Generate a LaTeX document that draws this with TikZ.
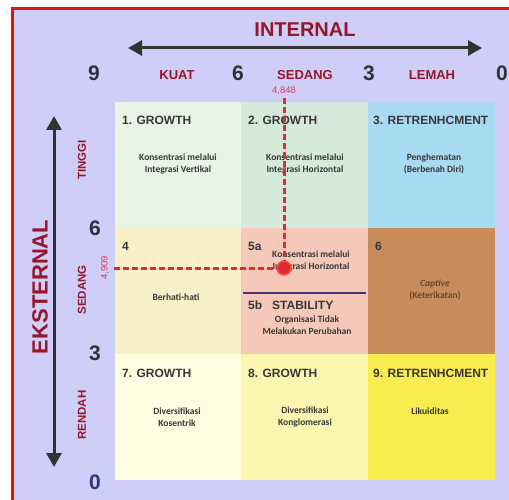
\documentclass[tikz,border=0pt]{standalone}
\usepackage{fontspec}
\setmainfont{Liberation Sans}
\newfontfamily\calfont{Carlito}
\usetikzlibrary{arrows.meta}

\definecolor{lavender}{RGB}{206,206,248}
\definecolor{framered}{RGB}{225,20,20}
\definecolor{darkred}{RGB}{150,22,40}
\definecolor{textgray}{RGB}{55,55,55}
\definecolor{numgray}{RGB}{48,48,58}
\definecolor{navy}{RGB}{46,52,120}
\definecolor{arrowgray}{RGB}{50,50,50}
\definecolor{scorered}{RGB}{225,60,85}
\definecolor{dashred}{RGB}{225,45,50}
\definecolor{divider}{RGB}{70,50,120}
\definecolor{cA}{RGB}{230,245,228}
\definecolor{cB}{RGB}{214,234,220}
\definecolor{cC}{RGB}{168,218,242}
\definecolor{cD}{RGB}{250,240,200}
\definecolor{cE}{RGB}{246,200,186}
\definecolor{cF}{RGB}{200,140,92}
\definecolor{cG}{RGB}{255,253,226}
\definecolor{cH}{RGB}{253,246,176}
\definecolor{cI}{RGB}{248,236,80}

\begin{document}
\begin{tikzpicture}[x=1pt,y=-1pt,
          cell/.style={rectangle, inner sep=0pt, minimum width=127pt, minimum height=126pt},
          title/.style={anchor=west, inner sep=0pt, text=textgray,
            font=\bfseries\fontsize{12}{14}\selectfont},
          body/.style={align=center, inner sep=0pt, text=textgray,
            font=\calfont\bfseries\fontsize{9.5}{12.5}\selectfont},
          axisnum/.style={text=numgray, font=\bfseries\fontsize{21}{24}\selectfont},
          toplabel/.style={text=darkred, font=\bfseries\fontsize{13}{15}\selectfont},
          sidelabel/.style={text=darkred, rotate=90, font=\bfseries\fontsize{11.5}{13}\selectfont},
          score/.style={text=scorered, inner sep=1pt, font=\fontsize{9.5}{10}\selectfont},
          axisarrow/.style={draw=arrowgray, line width=3pt,
            {Triangle[length=14pt,width=15pt]}-{Triangle[length=14pt,width=15pt]}},
          guide/.style={draw=dashred, line width=3pt, dash pattern=on 6pt off 3pt}]

        \useasboundingbox (0,0) rectangle (509,500);
        \fill[lavender] (12.5,8.5) rectangle (509,500);
        \draw[framered, line width=3pt] (12.5,500) |- (509,8.5);

        % axis captions and arrows
        \node[text=darkred, font=\bfseries\fontsize{20}{22}\selectfont] (internal) at (305,30) {INTERNAL};
        \node[text=darkred, rotate=90, font=\bfseries\fontsize{22}{24}\selectfont] (eksternal) at (40,287) {EKSTERNAL};

        \coordinate (il) at (128,48);
        \coordinate (ir) at (482,48);
        \coordinate (et) at (54,116);
        \coordinate (eb) at (54,467);
        \draw[axisarrow] (il) -- (ir);
        \draw[axisarrow] (et) -- (eb);

        \node[axisnum] (n9)  at (94,73)  {9};
        \node[axisnum] (n6)  at (238,73) {6};
        \node[axisnum] (n3)  at (369,73) {3};
        \node[axisnum] (n0)  at (502,73) {0};
        \node[axisnum] (m6)  at (95,228) {6};
        \node[axisnum] (m3)  at (95,353) {3};
        \node[axisnum, text=navy] (m0) at (95,482) {0};

        \node[toplabel] (kuat)   at (177,75) {KUAT};
        \node[toplabel] (sedang) at (305,75) {SEDANG};
        \node[toplabel] (lemah)  at (432,75) {LEMAH};

        \node[sidelabel] (tinggi)  at (82,160) {TINGGI};
        \node[sidelabel] (sedang2) at (82,290) {SEDANG};
        \node[sidelabel] (rendah)  at (82,415) {RENDAH};

        % the nine cells
        \node[cell, fill=cA] (cell1) at (178,165)   {};
        \node[cell, fill=cB] (cell2) at (304.5,165) {};
        \node[cell, fill=cC] (cell3) at (431.5,165) {};
        \node[cell, fill=cD] (cell4) at (178,291)   {};
        \node[cell, fill=cE] (cell5) at (304.5,291) {};
        \node[cell, fill=cF] (cell6) at (431.5,291) {};
        \node[cell, fill=cG] (cell7) at (178,417)   {};
        \node[cell, fill=cH] (cell8) at (304.5,417) {};
        \node[cell, fill=cI] (cell9) at (431.5,417) {};

        \node[title] (t1) at (122,120) {1. GROWTH};
        \node[title] (t2) at (248,120) {2. GROWTH};
        \node[title] (t3) at (373,120) {3. RETRENHCMENT};
        \node[body]  (b1) at (178,164) {Konsentrasi melalui\\Integrasi Vertikal};
        \node[body]  (b2) at (305,164) {Konsentrasi melalui\\Integrasi Horizontal};
        \node[body]  (b3) at (434,164) {Penghematan\\(Berbenah Diri)};

        \node[title] (t4)  at (122,246) {4};
        \node[title] (t5a) at (248,246) {5a};
        \node[title] (t6)  at (375,246) {6};
        \node[body]  (b4)  at (176,297) {Berhati-hati};
        \node[body]  (b5a) at (311,261) {Konsentrasi melalui\\Integrasi Horizontal};
        \draw[divider, line width=1.5pt] (243,293) -- (366,293);
        \node[title] (t5b) at (248,305) {5b\hspace{10pt}STABILITY};
        \node[body]  (b5b) at (307,325) {Organisasi Tidak\\Melakukan Perubahan};
        \node[body, text=brown!55!black] (b6) at (435,290) {\itshape Captive\\(Keterikatan)};

        \node[title] (t7) at (122,373) {7. GROWTH};
        \node[title] (t8) at (248,373) {8. GROWTH};
        \node[title] (t9) at (373,373) {9. RETRENHCMENT};
        \node[body]  (b7) at (177,417) {Diversifikasi\\Kosentrik};
        \node[body]  (b8) at (305,417) {Diversifikasi\\Konglomerasi};
        \node[body]  (b9) at (430,411) {Likuiditas};

        % position of the scores
        \node[score] (ie) at (284,91) {4,848};
        \node[score, rotate=90] (ee) at (105,268) {4,909};
        \node[circle, fill=dashred, draw=red!70!white, line width=1.5pt,
              minimum size=14pt, inner sep=0pt] (pos) at (284,268) {};

        \draw[guide, shorten <=2pt] (ie) -- (pos);
        \draw[guide, shorten <=4pt] (ee) -- (pos);

      \end{tikzpicture}
\end{document}
